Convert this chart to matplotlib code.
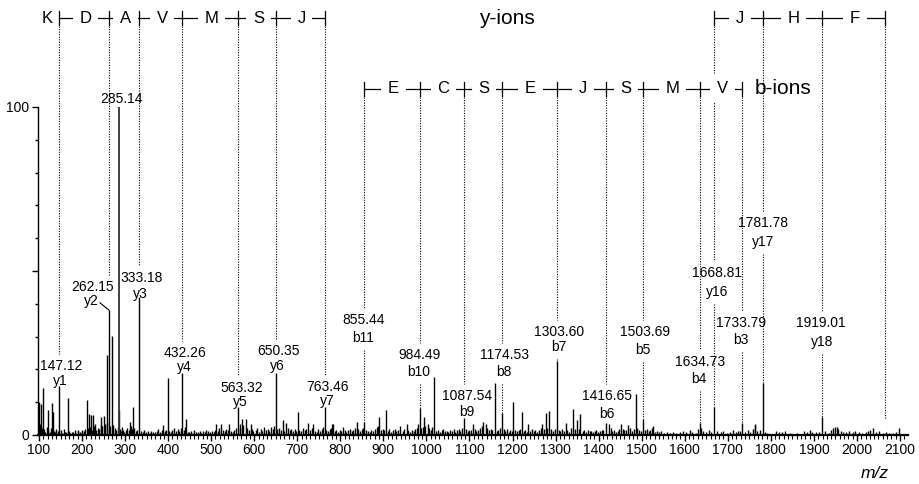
import matplotlib
matplotlib.use('Agg')
import matplotlib.pyplot as plt
from matplotlib.ticker import MultipleLocator, FixedLocator
from matplotlib.transforms import Bbox

plt.rcParams['font.family'] = ['Liberation Sans', 'DejaVu Sans']

# ---------------- data ----------------
ion_names = ['y1', 'y2', 'y3', 'y4', 'y5', 'y6', 'y7', 'b11', 'b10', 'b9', 'b8',
             'b7', 'b6', 'b5', 'b4', 'y16', 'b3', 'y17', 'y18']
ion_mz = [147.12, 262.15, 333.18, 432.26, 563.32, 650.35, 763.46, 855.44, 984.49,
          1087.54, 1174.53, 1303.60, 1416.65, 1503.69, 1634.73, 1668.81, 1733.79,
          1781.78, 1919.01]
ion_int = [15.0, 38.1, 42.0, 19.0, 8.5, 19.0, 8.5, 4.0, 8.1, 5.3, 6.6, 22.5, 3.6,
           5.0, 3.6, 8.5, 3.6, 16.0, 5.5]

base_mz = 285.14
base_int = 100.0

other_mz = [101, 104, 110, 120, 129.5, 132, 166.6, 190, 210.8, 217, 221, 225, 229,
            244, 251.7, 257, 269, 286.5, 293, 311, 317.6, 389, 399, 441.5, 511, 523,
            542, 571.5, 581, 592, 666, 674, 701, 725.6, 737, 780, 784, 806, 838,
            890.5, 905, 938.6, 954, 981, 994.3, 1004, 1018, 1109, 1132, 1137.6, 1159,
            1202, 1221, 1237, 1269, 1278, 1285.5, 1323.5, 1340, 1350, 1357.5, 1424,
            1452, 1469, 1486, 1527, 1763, 1954, 2036.6, 2098]
other_int = [10, 9.5, 14.2, 7.6, 9.7, 7.0, 11.2, 1.5, 10.7, 6.3, 6.1, 6.0, 3.5,
             5.6, 5.8, 24.4, 30.2, 7.5, 2.5, 4.0, 8.6, 3.0, 17.5, 5.0, 3.5, 3.5,
             3.3, 5.0, 4.8, 3.3, 4.6, 3.8, 7.0, 3.8, 3.3, 3.3, 3.3, 2.5, 4.0,
             5.5, 7.5, 2.7, 3.3, 3.3, 5.4, 3.3, 17.6, 3.5, 4.0, 3.5, 16.0,
             10.0, 7.0, 3.3, 3.3, 6.8, 7.2, 3.6, 7.8, 4.5, 6.3, 3.3,
             3.3, 3.0, 12.5, 2.8, 3.3, 2.5, 2.0, 2.0]

noise_mz = [102, 105, 107, 112, 115, 118, 122, 125, 127, 134, 137, 140, 143, 150, 153,
            157, 160, 163, 170, 173, 176, 180, 184, 187, 191, 195, 199,
            201, 204, 208, 214, 219, 224, 228, 233, 236, 240, 243, 247, 253, 259, 265,
            272, 276, 280, 283, 288, 291, 295, 298,
            302, 305, 308, 313, 316, 321, 325, 328, 337, 341, 345, 349, 353, 357, 361,
            365, 369, 373, 377, 381, 385, 393, 396,
            403, 406, 410, 414, 418, 422, 426, 429, 436, 439, 445, 449, 453, 457, 461,
            465, 469, 473, 477, 481, 485, 489, 493, 497,
            502, 506, 510, 515, 519, 527, 531, 535, 539, 546, 550, 554, 558, 566, 568,
            575, 584, 588, 595, 598,
            603, 607, 611, 615, 619, 623, 627, 631, 635, 639, 643, 646, 654, 658, 662,
            670, 678, 682, 686, 690, 694, 697,
            705, 709, 713, 717, 721, 730, 734, 741, 745, 749, 753, 757, 760, 767, 771,
            775, 779, 787, 791, 795, 799,
            802, 810, 814, 818, 822, 826, 830, 834, 842, 846, 850, 853, 860, 864, 868,
            872, 876, 880, 884, 887, 895, 899,
            902, 910, 914, 918, 922, 926, 930, 934, 945, 949, 958, 962, 966, 970, 974,
            978, 988, 991, 997,
            1007, 1011, 1014, 1023, 1027, 1031, 1035, 1039, 1043, 1047, 1051, 1055,
            1059, 1063, 1067, 1071, 1075, 1079, 1083, 1092, 1096, 1099,
            1103, 1112, 1116, 1120, 1124, 1128, 1141, 1145, 1149, 1153, 1163, 1167,
            1170, 1179, 1183, 1187, 1191, 1195, 1198,
            1206, 1210, 1214, 1218, 1226, 1230, 1234, 1241, 1245, 1249, 1253, 1257,
            1261, 1265, 1273, 1281, 1290, 1294, 1298,
            1307, 1311, 1315, 1319, 1327, 1331, 1335, 1345, 1355, 1363, 1367, 1371,
            1375, 1379, 1383, 1387, 1391, 1395, 1399,
            1403, 1407, 1411, 1428, 1432, 1436, 1440, 1444, 1448, 1456, 1460, 1464,
            1474, 1478, 1482, 1490, 1494, 1498,
            1508, 1512, 1516, 1520, 1524, 1531, 1535, 1540, 1546, 1552, 1558, 1565,
            1572, 1580, 1588, 1595,
            1604, 1612, 1618, 1625, 1630, 1638, 1642, 1650, 1656, 1662, 1675, 1684,
            1690, 1697,
            1705, 1712, 1718, 1723, 1728, 1740, 1746, 1752, 1758, 1763, 1768, 1775,
            1786, 1792,
            1812, 1818, 1825, 1832, 1845, 1860, 1878, 1884, 1890, 1896,
            1905, 1912, 1926, 1934, 1940, 1945, 1950, 1956, 1962, 1968, 1975, 1982,
            1990, 1996,
            2005, 2012, 2020, 2026, 2031, 2045, 2052, 2060, 2068, 2075, 2084, 2090]
noise_int = [3.5, 1.2, 2.0, 1.8, 1.0, 2.4, 1.5, 0.9, 2.2, 1.3, 0.8, 1.7, 1.1, 1.4, 0.7,
             1.9, 1.0, 0.8, 1.2, 0.6, 1.0, 0.9, 1.4, 0.7, 1.1, 0.8, 1.3,
             1.5, 1.2, 1.8, 2.0, 2.5, 1.6, 2.8, 1.4, 2.2, 1.9, 3.0, 2.6, 3.5, 4.0, 2.8,
             3.2, 2.0, 1.5, 2.4, 1.8, 1.2, 1.6, 1.0,
             1.4, 2.0, 1.6, 2.8, 1.9, 2.2, 1.3, 1.5, 1.2, 0.8, 1.4, 0.9, 1.1, 0.7, 1.3,
             1.0, 0.8, 1.2, 1.7, 0.9, 1.5, 1.1, 1.6,
             1.2, 0.9, 1.5, 2.0, 1.3, 1.8, 1.1, 2.2, 1.6, 2.4, 1.0, 0.8, 1.2, 0.7, 1.4,
             0.9, 1.0, 1.3, 0.6, 1.1, 0.8, 1.5, 1.2, 0.9,
             1.3, 1.0, 1.6, 1.2, 2.0, 1.4, 1.1, 1.8, 1.5, 1.2, 0.9, 1.6, 2.2, 2.0, 3.5,
             3.0, 2.0, 1.4, 1.8, 1.2,
             1.5, 2.2, 1.0, 1.8, 1.2, 2.5, 1.4, 1.9, 1.1, 2.3, 1.7, 2.6, 1.8, 2.2, 1.5,
             1.2, 2.0, 1.4, 1.7, 1.1, 1.9, 1.3,
             1.6, 1.2, 2.0, 1.4, 1.8, 1.5, 2.1, 1.3, 1.0, 1.7, 1.2, 1.9, 2.4, 1.5, 1.1,
             1.8, 2.0, 1.3, 1.6, 1.0, 1.4,
             1.2, 1.6, 1.0, 1.4, 1.8, 1.1, 1.5, 2.0, 1.7, 1.2, 1.9, 2.2, 1.6, 1.3, 1.0,
             1.5, 1.2, 1.8, 2.4, 2.6, 1.4, 1.9,
             1.5, 1.2, 1.7, 1.0, 1.4, 1.8, 1.1, 1.6, 1.3, 1.9, 1.5, 1.0, 1.4, 1.2, 1.7,
             2.2, 2.0, 2.5, 2.8,
             2.0, 1.5, 2.3, 1.2, 1.6, 1.0, 1.4, 1.8, 1.1, 1.3, 0.9, 1.5,
             1.2, 1.7, 1.0, 1.4, 1.9, 1.2, 2.2, 1.8, 1.3, 1.6,
             1.5, 1.8, 1.2, 1.6, 2.2, 2.6, 2.0, 1.4, 1.8, 1.5, 1.2, 1.6,
             2.0, 1.7, 1.3, 1.9, 1.0, 1.5, 1.2,
             1.4, 1.1, 1.6, 1.9, 1.2, 1.5, 1.0, 1.3, 1.7, 1.1, 1.4, 0.9,
             1.6, 2.0, 1.8, 2.2, 1.7, 1.3, 1.9,
             1.6, 1.2, 1.8, 1.3, 1.5, 1.0, 2.0, 1.7, 1.9, 1.2, 1.6, 0.9,
             1.4, 1.1, 1.3, 0.8, 1.2, 1.5, 1.0,
             1.2, 1.6, 1.4, 2.0, 1.1, 1.5, 0.9, 1.3, 1.7, 1.9, 1.4, 1.6,
             2.2, 1.3, 1.8, 2.0, 1.5, 1.2,
             1.4, 1.8, 1.2, 1.6, 2.2, 1.0, 1.3, 0.8, 1.1, 0.7, 0.9, 0.6,
             0.8, 0.7, 1.0, 1.2,
             0.8, 1.5, 1.0, 0.7, 1.8, 2.0, 1.2, 0.9, 1.6, 1.0, 1.1, 0.8,
             1.3, 0.7,
             0.9, 1.4, 0.8, 1.1, 1.2, 1.0, 1.5, 0.8, 1.9, 3.0, 1.3, 1.5,
             0.9, 0.7,
             1.3, 1.0, 0.8, 1.2, 0.6, 0.7, 1.2, 0.8, 1.4, 1.0,
             0.8, 1.0, 1.1, 0.7, 1.6, 2.0, 2.4, 1.8, 1.2, 0.9, 1.0, 1.3,
             0.8, 1.1,
             0.9, 0.7, 1.0, 1.2, 1.6, 0.8, 1.1, 0.6, 0.9, 0.7, 0.5, 0.8]

# sequence ladders
y_ladder_left_mz = [147.12, 262.15, 333.18, 432.26, 563.32, 650.35, 763.46]
y_ladder_left_res = ['D', 'A', 'V', 'M', 'S', 'J']
y_ladder_first_res = 'K'
y_ladder_right_mz = [1668.81, 1781.78, 1919.01, 2066.08]
y_ladder_right_res = ['J', 'H', 'F']
b_ladder_mz = [855.44, 984.49, 1087.54, 1174.53, 1303.60, 1416.65, 1503.69,
               1634.73, 1733.79]
b_ladder_res = ['E', 'C', 'S', 'E', 'J', 'S', 'M', 'V']

x_ticks = list(range(100, 2101, 100))
y_minor_ticks = [10, 20, 30, 40, 60, 70, 80, 90]

# ---------------- layout (label placement, data coords) ----------------
label_pos = {
    'y1': (152.7, 21.0, 148.8, 16.5),
    'y2': (225.4, 45.1, 222.4, 40.9),
    'y3': (337.6, 47.8, 336.2, 42.9),
    'y4': (439.8, 25.1, 437.5, 20.8),
    'y5': (569.9, 14.2, 568.5, 10.2),
    'y6': (655.2, 25.6, 654.5, 21.0),
    'y7': (770.6, 14.6, 769.0, 10.5),
    'y16': (1674.2, 49.3, 1674.2, 43.7),
    'y17': (1782.5, 64.5, 1782.5, 58.9),
    'y18': (1917.2, 34.1, 1919.5, 28.4),
    'b11': (854.2, 35.1, 853.3, 29.5),
    'b10': (983.4, 24.4, 982.7, 19.1),
    'b9': (1094.7, 12.0, 1093.5, 6.9),
    'b8': (1180.6, 24.4, 1180.8, 19.2),
    'b7': (1307.9, 31.5, 1307.9, 26.7),
    'b6': (1419.4, 12.0, 1418.7, 6.4),
    'b5': (1507.7, 31.3, 1503.7, 25.9),
    'b4': (1634.7, 22.3, 1633.1, 17.0),
    'b3': (1730.2, 34.2, 1730.0, 29.0),
}
base_label_pos = (292.1, 102.3)

Y_ROW = 127.0
B_ROW = 105.5
TICK_H = 2.1
Y_LINE_START = 124.6
B_LINE_START = 103.0

fig = plt.figure(figsize=(9.2, 4.84), dpi=100)
ax = fig.add_axes([38 / 920, 49 / 484, 870 / 920, 435 / 484])
ax.set_xlim(97.7, 2118.6)
ax.set_ylim(0, 132.6)

# spectrum
ax.vlines(noise_mz, 0, noise_int, color='black', lw=1.0, zorder=2)
ax.vlines(other_mz, 0, other_int, color='black', lw=1.0, zorder=2)
ax.vlines(ion_mz, 0, ion_int, color='black', lw=1.0, zorder=2)
ax.vlines([base_mz], 0, [base_int], color='#333333', lw=1.3, zorder=2)

# axes styling
for s in ['top', 'right']:
    ax.spines[s].set_visible(False)
ax.spines['left'].set_bounds(0, 100)
ax.spines['left'].set_linewidth(1.0)
ax.spines['bottom'].set_linewidth(1.6)
ax.yaxis.set_major_locator(FixedLocator([0, 50, 100]))
ax.set_yticklabels(['0', '', '100'])
ax.yaxis.set_minor_locator(FixedLocator(y_minor_ticks))
ax.xaxis.set_major_locator(FixedLocator(x_ticks))
ax.set_xticklabels([str(t) for t in x_ticks])
ax.xaxis.set_minor_locator(MultipleLocator(10))
ax.tick_params(axis='both', which='major', direction='out', labelsize=10,
               width=1.0, pad=2)
ax.tick_params(axis='y', which='major', length=4.2)
ax.tick_params(axis='y', which='minor', length=2.2, width=1.0)
ax.tick_params(axis='x', which='major', length=4.0)
ax.tick_params(axis='x', which='minor', length=3.0, width=0.8)

fig.text(875 / 920, 1 - 473 / 484, 'm/z', style='italic', fontsize=12.5,
         ha='center', va='center')

# peak labels
label_texts = {}
for name, mz in zip(ion_names, ion_mz):
    nx, ny, mx, my = label_pos[name]
    t1 = ax.text(nx, ny, f'{mz:.2f}', fontsize=10, ha='center', va='center', zorder=4)
    t2 = ax.text(mx, my, name, fontsize=10, ha='center', va='center', zorder=4)
    label_texts[name] = [t1, t2]
ax.text(base_label_pos[0], base_label_pos[1], f'{base_mz:.2f}', fontsize=10,
        ha='center', va='center', zorder=4)

# y2 leader line
y2_i = ion_names.index('y2')
ax.plot([241.7, ion_mz[y2_i]], [40.3, ion_int[y2_i]], color='black', lw=0.8, zorder=3)


def draw_ladder(positions, residues, row, first=None, first_x=None, extra=None,
                extra_x=None, extra_size=15):
    ax.plot([positions[0], positions[-1]], [row, row], color='black', lw=0.9, zorder=3)
    for p in positions:
        ax.plot([p, p], [row - TICK_H, row + TICK_H], color='black', lw=0.9, zorder=3)
    for i, r in enumerate(residues):
        xm = (positions[i] + positions[i + 1]) / 2 + 3
        ax.text(xm, row, r, fontsize=12, ha='center', va='center', zorder=5,
                bbox=dict(boxstyle='square,pad=0.4', fc='white', ec='none'))
    if first:
        ax.text(first_x, row, first, fontsize=12, ha='center', va='center', zorder=5)
    if extra:
        ax.text(extra_x, row, extra, fontsize=extra_size, ha='center', va='center',
                zorder=5)


draw_ladder(y_ladder_left_mz, y_ladder_left_res, Y_ROW, first=y_ladder_first_res,
            first_x=117.9)
draw_ladder(y_ladder_right_mz, y_ladder_right_res, Y_ROW)
ax.text(1186, Y_ROW, 'y-ions', fontsize=15, ha='center', va='center')
draw_ladder(b_ladder_mz, b_ladder_res, B_ROW, extra='b-ions', extra_x=1829)

# dotted connector lines, broken where they meet their own label
fig.canvas.draw()
renderer = fig.canvas.get_renderer()
inv = ax.transData.inverted()
GAP = 5

peak_lookup = dict(zip(ion_mz, ion_int))
name_lookup = dict(zip(ion_mz, ion_names))

connectors = []
for p in y_ladder_left_mz + y_ladder_right_mz:
    connectors.append((p, Y_LINE_START))
for p in b_ladder_mz:
    connectors.append((p, B_LINE_START))

dot_kw = dict(color='black', lw=0.8, linestyle=(0, (1, 1.3)), zorder=1)
for p, start in connectors:
    end = peak_lookup.get(p, 5.2)
    name = name_lookup.get(p)
    segs = [(start, end)]
    if name is not None:
        bb = Bbox.union([t.get_window_extent(renderer) for t in label_texts[name]])
        xd = ax.transData.transform((p, 0))[0]
        if bb.x0 <= xd <= bb.x1:
            ytop = inv.transform((xd, bb.y1 + GAP))[1]
            ybot = inv.transform((xd, bb.y0 - GAP))[1]
            segs = [(start, ytop)]
            if ybot > end:
                segs.append((ybot, end))
    for a, b in segs:
        if a > b:
            ax.plot([p, p], [a, b], **dot_kw)

fig.savefig('out.png', dpi=100)
